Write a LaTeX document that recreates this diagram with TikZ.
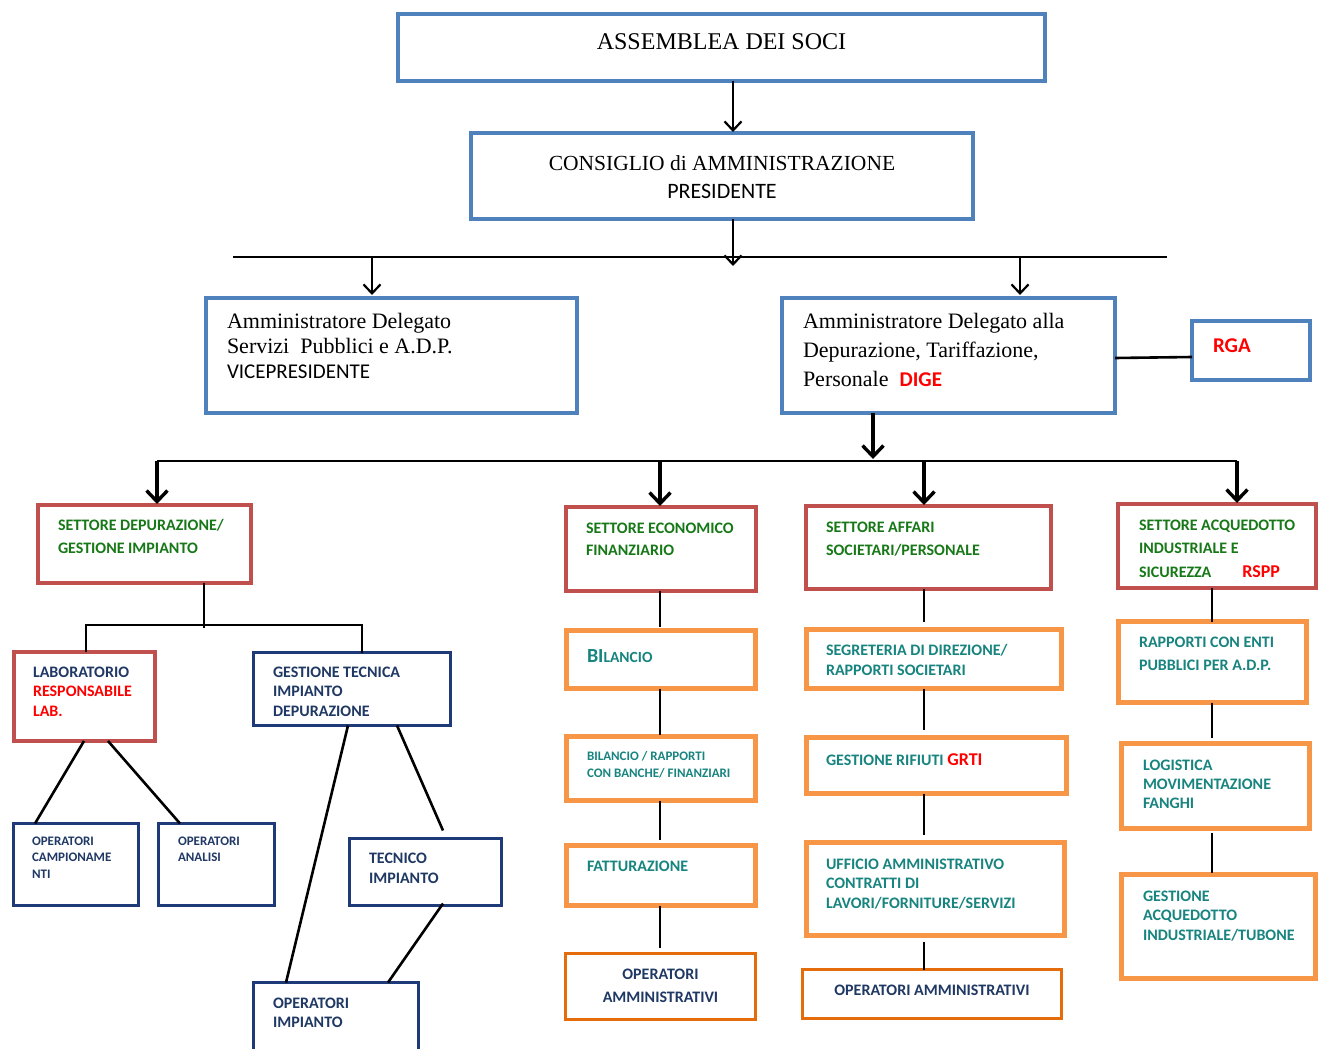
\documentclass[tikz,border=0pt]{standalone}
\usepackage{fontspec}
\setmainfont{Carlito}
\newfontfamily\carl{Carlito}
\newfontfamily\serifA{Liberation Serif}
\usetikzlibrary{arrows.meta,calc}
\definecolor{bxblue}{HTML}{4F81BD}
\definecolor{bxred}{HTML}{C0504D}
\definecolor{bxorange}{HTML}{F79646}
\definecolor{bxdorange}{HTML}{E46C0A}
\definecolor{bxnavy}{HTML}{1F3A78}
\definecolor{txnavy}{HTML}{1F3864}
\definecolor{txgreen}{HTML}{177817}
\definecolor{txteal}{HTML}{17847F}
\definecolor{txred}{HTML}{FF0000}
\newcommand{\cellL}[5]{\parbox[c][#2pt][t]{#1pt}{\raggedright\setlength{\leftskip}{#3pt}\rule{0pt}{#4pt}#5}}
\newcommand{\cellC}[4]{\parbox[c][#2pt][t]{#1pt}{\centering\rule{0pt}{#3pt}#4}}
\tikzset{
  basebox/.style={draw, inner sep=0pt, outer sep=0pt},
  bluebox/.style={basebox, draw=bxblue, line width=4.5pt},
  redbox/.style={basebox, draw=bxred, line width=4pt},
  orbox/.style={basebox, draw=bxorange, line width=5pt},
  dorbox/.style={basebox, draw=bxdorange, line width=3pt},
  navybox/.style={basebox, draw=bxnavy, line width=3pt},
  ln/.style={draw=black, line width=2.6pt},
  lnA/.style={draw=black, line width=2.2pt},
  arrA/.style={lnA, -{Straight Barb[length=9pt,width=17pt,line width=2.2pt]}},
  arrB/.style={ln, line width=3.2pt, -{Straight Barb[length=11pt,width=21pt,line width=3.4pt]}},
}
\begin{document}
\begin{tikzpicture}[x=1pt,y=-1pt]
\useasboundingbox (0,0) rectangle (1320,1049);
\fill[white] (0,0) rectangle (1320,1049);

% top level
\node[bluebox] (asm) at (721.5,47.5) {\cellC{647}{67}{35}{\serifA\fontsize{24}{28}\selectfont ASSEMBLEA DEI SOCI}};
\node[bluebox] (cda) at (722,176) {\cellC{502}{86}{37}{\fontsize{22}{28}\selectfont{\serifA\fontsize{21.5}{28}\selectfont CONSIGLIO di AMMINISTRAZIONE}\\PRESIDENTE}};
\node[bluebox] (ads) at (391.5,355.5) {\cellL{371}{115}{21}{30}{\serifA\fontsize{22}{25}\selectfont Amministratore Delegato\\Servizi\ \ Pubblici e A.D.P.\\{\carl\fontsize{21}{25}\selectfont VICEPRESIDENTE}}};
\node[bluebox] (add) at (948.5,355.5) {\cellL{333}{115}{21}{30}{\serifA\fontsize{22}{29}\selectfont Amministratore Delegato alla\\Depurazione, Tariffazione,\\Personale\ \ {\carl\bfseries\color{txred}\fontsize{21}{29}\selectfont DIGE}}};
\node[bluebox] (rga) at (1251,350.5) {\cellL{118}{59}{21}{31}{\bfseries\color{txred}\fontsize{21}{25}\selectfont RGA}};

% sectors
\node[redbox] (sdep) at (144.5,544) {\cellL{213}{78}{20}{25}{\bfseries\color{txgreen}\fontsize{16}{23}\selectfont SETTORE DEPURAZIONE/\\GESTIONE IMPIANTO}};
\node[redbox] (seco) at (661,549) {\cellL{190}{84}{20}{26}{\bfseries\color{txgreen}\fontsize{16}{22}\selectfont SETTORE ECONOMICO\\FINANZIARIO}};
\node[redbox] (saff) at (928.5,547.5) {\cellL{245}{83}{20}{26}{\bfseries\color{txgreen}\fontsize{16}{23}\selectfont SETTORE AFFARI\\SOCIETARI/PERSONALE}};
\node[redbox] (sacq) at (1217,546) {\cellL{198}{84}{21}{26}{\bfseries\color{txgreen}\fontsize{16}{23.5}\selectfont SETTORE ACQUEDOTTO\\INDUSTRIALE E\\SICUREZZA\hspace*{31pt}{\color{txred}\fontsize{18}{23.5}\selectfont RSPP}}};

% depurazione subtree
\node[redbox] (lab) at (84.5,696.5) {\cellL{141}{89}{19}{25}{\bfseries\fontsize{16}{19.5}\selectfont{\color{txnavy}LABORATORIO}\\\color{txred}RESPONSABILE\\LAB.}};
\node[navybox] (gti) at (352,689) {\cellL{197}{73}{19.5}{24.5}{\bfseries\color{txnavy}\fontsize{16}{19.5}\selectfont GESTIONE TECNICA\\IMPIANTO\\DEPURAZIONE}};
\node[navybox] (opc) at (76,864.5) {\cellL{125}{82}{18.5}{21.5}{\bfseries\color{txnavy}\fontsize{13}{16.5}\selectfont OPERATORI\\CAMPIONAME\\NTI}};
\node[navybox] (opa) at (216.5,864.5) {\cellL{116}{82}{19.5}{21.5}{\bfseries\color{txnavy}\fontsize{13}{16}\selectfont OPERATORI\\ANALISI}};
\node[navybox] (tec) at (425.5,872) {\cellL{152}{67}{19.5}{24.5}{\bfseries\color{txnavy}\fontsize{16}{20}\selectfont TECNICO\\IMPIANTO}};
\node[navybox] (opi) at (336,1021.5) {\cellL{165}{78}{19.5}{25.5}{\bfseries\color{txnavy}\fontsize{16}{19}\selectfont OPERATORI\\IMPIANTO}};

% economico column
\node[orbox] (bil) at (661,659.5) {\cellL{189}{58}{20.5}{31.5}{\bfseries\color{txteal}\fontsize{20}{24}\selectfont BI{\fontsize{15.5}{24}\selectfont LANCIO}}};
\node[orbox] (bbr) at (661,768.5) {\cellL{189}{64}{20.5}{23.5}{\bfseries\color{txteal}\fontsize{13}{17}\selectfont BILANCIO / RAPPORTI\\CON BANCHE/ FINANZIARI}};
\node[orbox] (fat) at (661,875.5) {\cellL{189}{60}{20.5}{25.5}{\bfseries\color{txteal}\fontsize{16}{20}\selectfont FATTURAZIONE}};
\node[dorbox] (oam1) at (660.5,986.5) {\cellC{190}{66}{25.5}{\bfseries\color{txnavy}\fontsize{16}{23}\selectfont OPERATORI\\AMMINISTRATIVI}};

% affari column
\node[orbox] (seg) at (934,659) {\cellL{255}{59}{19.5}{25.5}{\bfseries\color{txteal}\fontsize{16}{20}\selectfont SEGRETERIA DI DIREZIONE/\\RAPPORTI SOCIETARI}};
\node[orbox] (grt) at (936.5,765.5) {\cellL{260}{56}{19.5}{27.5}{\bfseries\color{txteal}\fontsize{16}{20}\selectfont GESTIONE RIFIUTI {\color{txred}\fontsize{18}{20}\selectfont GRTI}}};
\node[orbox] (uff) at (935.5,889) {\cellL{258}{93}{19.5}{26.5}{\bfseries\color{txteal}\fontsize{16}{19.5}\selectfont UFFICIO AMMINISTRATIVO\\CONTRATTI DI\\LAVORI/FORNITURE/SERVIZI}};
\node[dorbox] (oam2) at (932,994) {\cellC{259}{49}{25.5}{\bfseries\color{txnavy}\fontsize{16}{20}\selectfont OPERATORI AMMINISTRATIVI}};

% acquedotto column
\node[orbox] (rap) at (1212.5,662) {\cellL{188}{81}{20.5}{25.5}{\bfseries\color{txteal}\fontsize{16}{23}\selectfont RAPPORTI CON ENTI\\PUBBLICI PER A.D.P.}};
\node[orbox] (log) at (1215.5,786) {\cellL{188}{85}{21.5}{26.5}{\bfseries\color{txteal}\fontsize{16}{19}\selectfont LOGISTICA\\MOVIMENTAZIONE\\FANGHI}};
\node[orbox] (gac) at (1218.5,926.5) {\cellL{194}{104}{21.5}{26.5}{\bfseries\color{txteal}\fontsize{16}{19.5}\selectfont GESTIONE\\ACQUEDOTTO\\INDUSTRIALE/TUBONE}};

% ---- connectors: top
\coordinate (cx) at (733,0);
\coordinate (c1) at (733,266);
\coordinate (bA1) at (233,257);
\coordinate (bA2) at (1167,257);
\coordinate (bl) at (372,257);
\coordinate (br) at (1020,257);
\draw[arrA, shorten >=1pt] (cx |- asm.south) -- (cx |- cda.north);
\draw[arrA] (cx |- cda.south) -- (c1);
\draw[lnA] (bA1) -- (bA2);
\draw[arrA, shorten >=3pt] (bl) -- (bl |- ads.north);
\draw[arrA, shorten >=3pt] (br) -- (br |- add.north);
\draw[ln] ([yshift=-2.5pt]add.east) -- ([yshift=-6.5pt]rga.west);

% ---- second bus
\coordinate (j2) at (873,459);
\coordinate (bB1) at (157,461);
\coordinate (bB2) at (1237,461);
\coordinate (bB3) at (660,461);
\coordinate (bB4) at (924,461);
\draw[arrB] (j2 |- add.south) -- (j2);
\draw[ln] (bB1) -- (bB2);
\draw[arrB, shorten >=1pt] (bB1) -- (bB1 |- sdep.north);
\draw[arrB, shorten >=1pt] (bB3) -- (bB3 |- seco.north);
\draw[arrB, shorten >=1pt] (bB4) -- (bB4 |- saff.north);
\draw[arrB, shorten >=1pt] (bB2) -- (bB2 |- sacq.north);

% ---- depurazione subtree
\coordinate (dj) at (204,628);
\coordinate (dL) at (86,625);
\coordinate (dR) at (362,625);
\draw[ln] (dj |- sdep.south) -- (dj);
\draw[ln] (dL |- lab.north) -- (dL) -- (dR) -- (dR |- gti.north);
\draw[ln] ([xshift=70pt]lab.south west) -- ([xshift=21.5pt]opc.north west);
\draw[ln] ([xshift=94pt]lab.south west) -- ([xshift=21.5pt]opa.north west);
\draw[ln] ([xshift=94.5pt]gti.south west) -- ([xshift=32.5pt]opi.north west);
\draw[ln] ([xshift=143.5pt]gti.south west) -- ([xshift=93.5pt,yshift=8pt]tec.north west);
\draw[ln] ([xshift=93.5pt,yshift=2pt]tec.south west) -- ([xshift=134.5pt]opi.north west);

% ---- columns
\coordinate (ce) at (660,0);
\coordinate (ca) at (924,0);
\coordinate (cq) at (1212,0);
\draw[ln, shorten >=4pt] (ce |- seco.south) -- (ce |- bil.north);
\draw[ln, shorten >=2pt] (ce |- bil.south) -- (ce |- bbr.north);
\draw[ln, shorten >=6pt] (ce |- bbr.south) -- (ce |- fat.north);
\draw[ln, shorten >=6pt] (ce |- fat.south) -- (ce |- oam1.north);

\draw[ln, shorten >=8pt] (ca |- saff.south) -- (ca |- seg.north);
\draw[ln, shorten >=8pt] (ca |- seg.south) -- (ca |- grt.north);
\draw[ln, shorten >=8pt] (ca |- grt.south) -- (ca |- uff.north);
\draw[ln, shorten <=6pt] (ca |- uff.south) -- (ca |- oam2.north);

\draw[ln] (cq |- sacq.south) -- (cq |- rap.north);
\draw[ln, shorten >=6pt] (cq |- rap.south) -- (cq |- log.north);
\draw[ln, shorten >=2pt, shorten <=4pt] (cq |- log.south) -- (cq |- gac.north);
\end{tikzpicture}
\end{document}
